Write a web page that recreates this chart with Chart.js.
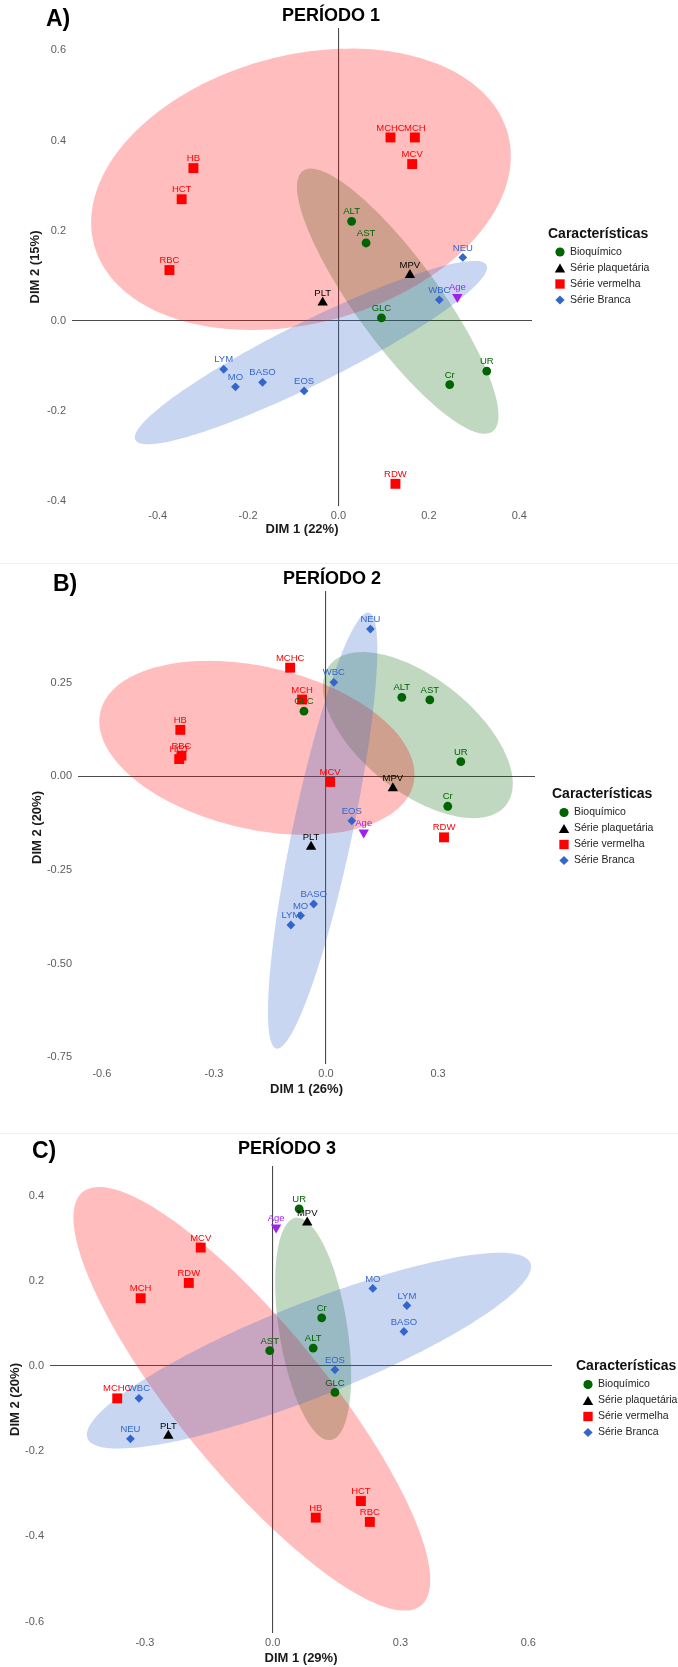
<!DOCTYPE html>
<html>
<head>
<meta charset="utf-8">
<script src="https://cdn.jsdelivr.net/npm/chart.js@4.4.1/dist/chart.umd.min.js"></script>
<style>
  html, body { margin: 0; padding: 0; background: #fff; }
  #page { position: relative; width: 678px; height: 1667px; overflow: hidden; }
  .panel { position: absolute; left: 0; width: 678px; }
  .sep { position: absolute; left: 0; width: 678px; height: 1px; background: #f1f1f1; }
</style>
</head>
<body>
<div id="page">
  <div class="sep" style="top:563px"></div>
  <div class="sep" style="top:1133px"></div>
  <div class="panel" style="top:0px;height:560px"><canvas id="c1" width="678" height="560"></canvas></div>
  <div class="panel" style="top:560px;height:570px"><canvas id="c2" width="678" height="570"></canvas></div>
  <div class="panel" style="top:1127px;height:540px"><canvas id="c3" width="678" height="540"></canvas></div>
</div>
<script>
// legend groups (index 4 = Age, not in legend)
var groups = ['Bioquímico', 'Série plaquetária', 'Série vermelha', 'Série Branca'];
var groupColors = ['#006400', '#000000', '#FF0000', '#3366CC', '#A020F0'];
var ellipseFill = ['rgba(0,100,0,0.25)', null, 'rgba(255,0,0,0.26)', 'rgba(51,102,204,0.27)'];

// ---- Período 1
var p1Names = ['ALT','AST','GLC','UR','Cr','PLT','MPV','HB','HCT','RBC','MCHC','MCH','MCV','RDW','NEU','WBC','LYM','MO','BASO','EOS','Age'];
var p1Group = [0,0,0,0,0,1,1,2,2,2,2,2,2,2,3,3,3,3,3,3,4];
var p1Dim1 = [0.029,0.061,0.095,0.328,0.246,-0.035,0.158,-0.321,-0.347,-0.374,0.115,0.169,0.163,0.126,0.275,0.223,-0.254,-0.228,-0.168,-0.076,0.263];
var p1Dim2 = [0.221,0.173,0.007,-0.111,-0.141,0.041,0.102,0.339,0.270,0.113,0.407,0.407,0.348,-0.361,0.141,0.047,-0.107,-0.146,-0.136,-0.155,0.053];
// ellipses: Bioquímico, Série vermelha, Série Branca
var p1EllGroup = [0, 2, 3];
var p1EllCx = [0.131, -0.083, -0.061];
var p1EllCy = [0.044, 0.292, -0.070];
var p1EllA = [0.357, 0.474, 0.434];
var p1EllB = [0.093, 0.297, 0.069];
var p1EllAngle = [-54, 15, 26.5];
var p1XTicks = ['-0.4','-0.2','0.0','0.2','0.4'];
var p1YTicks = ['-0.4','-0.2','0.0','0.2','0.4','0.6'];

// ---- Período 2
var p2Names = ['ALT','AST','GLC','UR','Cr','PLT','MPV','HB','HCT','RBC','MCHC','MCH','MCV','RDW','NEU','WBC','LYM','MO','BASO','EOS','Age'];
var p2Group = [0,0,0,0,0,1,1,2,2,2,2,2,2,2,3,3,3,3,3,3,4];
var p2Dim1 = [0.203,0.278,-0.059,0.361,0.326,-0.040,0.179,-0.390,-0.393,-0.387,-0.096,-0.064,0.011,0.316,0.119,0.021,-0.094,-0.068,-0.033,0.069,0.101];
var p2Dim2 = [0.211,0.204,0.174,0.039,-0.080,-0.188,-0.032,0.124,0.046,0.055,0.290,0.205,-0.015,-0.163,0.393,0.251,-0.397,-0.372,-0.341,-0.119,-0.150];
var p2EllGroup = [0, 2, 3];
var p2EllCx = [0.246, -0.185, -0.009];
var p2EllCy = [0.110, 0.076, -0.145];
var p2EllA = [0.301, 0.430, 0.595];
var p2EllB = [0.152, 0.217, 0.080];
var p2EllAngle = [-38.4, -12.9, 78];
var p2XTicks = ['-0.6','-0.3','0.0','0.3'];
var p2YTicks = ['-0.75','-0.50','-0.25','0.00','0.25'];

// ---- Período 3
var p3Names = ['UR','Cr','ALT','AST','GLC','MPV','PLT','MCV','RDW','MCH','MCHC','HCT','HB','RBC','MO','LYM','BASO','EOS','WBC','NEU','Age'];
var p3Group = [0,0,0,0,0,1,1,2,2,2,2,2,2,2,3,3,3,3,3,3,4];
var p3Dim1 = [0.062,0.115,0.095,-0.007,0.146,0.081,-0.245,-0.169,-0.197,-0.310,-0.365,0.207,0.101,0.228,0.235,0.315,0.308,0.146,-0.314,-0.334,0.008];
var p3Dim2 = [0.369,0.113,0.042,0.036,-0.062,0.337,-0.164,0.278,0.195,0.159,-0.076,-0.317,-0.356,-0.366,0.182,0.142,0.081,-0.009,-0.076,-0.171,0.325];
var p3EllGroup = [0, 2, 3];
var p3EllCx = [0.095, -0.049, 0.085];
var p3EllCy = [0.087, -0.077, 0.036];
var p3EllA = [0.264, 0.627, 0.559];
var p3EllB = [0.080, 0.172, 0.110];
var p3EllAngle = [99, -50.7, 21.6];
var p3XTicks = ['-0.3','0.0','0.3','0.6'];
var p3YTicks = ['-0.6','-0.4','-0.2','0.0','0.2','0.4'];

var FONT = "'Liberation Sans', Arial, Helvetica, sans-serif";
var shapeStyle = ['circle', 'triangle', 'rect', 'rectRot', 'triangle'];
var shapeRotation = [0, 0, 0, 0, 180];
var shapeRadius = [4.4, 6, 7, 4.4, 6];

function buildPanel(id, p) {
  var datasets = [];
  for (var g = 0; g < 5; g++) {
    var pts = [];
    p.group.forEach(function(gg, i) {
      if (gg === g) pts.push({ x: p.dim1[i], y: p.dim2[i], name: p.names[i] });
    });
    datasets.push({
      data: pts,
      backgroundColor: groupColors[g],
      pointBackgroundColor: groupColors[g],
      pointBorderWidth: 0,
      pointStyle: shapeStyle[g],
      rotation: shapeRotation[g],
      pointRotation: shapeRotation[g],
      pointRadius: shapeRadius[g],
      pointHoverRadius: shapeRadius[g]
    });
  }

  var ellipsePlugin = {
    id: 'ellipses',
    beforeDatasetsDraw: function(chart) {
      var ctx = chart.ctx, xs = chart.scales.x, ys = chart.scales.y;
      var area = chart.chartArea;
      ctx.save();
      ctx.beginPath();
      ctx.rect(area.left, area.top, area.right - area.left, area.bottom - area.top);
      ctx.clip();
      for (var e = 0; e < p.ell.group.length; e++) {
        var th = p.ell.angle[e] * Math.PI / 180;
        ctx.beginPath();
        for (var k = 0; k <= 180; k++) {
          var t = k / 180 * 2 * Math.PI;
          var u = p.ell.a[e] * Math.cos(t), v = p.ell.b[e] * Math.sin(t);
          var dx = p.ell.cx[e] + u * Math.cos(th) - v * Math.sin(th);
          var dy = p.ell.cy[e] + u * Math.sin(th) + v * Math.cos(th);
          var px = xs.getPixelForValue(dx), py = ys.getPixelForValue(dy);
          if (k === 0) ctx.moveTo(px, py); else ctx.lineTo(px, py);
        }
        ctx.closePath();
        ctx.fillStyle = ellipseFill[p.ell.group[e]];
        ctx.fill();
      }
      ctx.restore();
    }
  };

  var labelPlugin = {
    id: 'pointLabels',
    afterDatasetsDraw: function(chart) {
      var ctx = chart.ctx;
      ctx.save();
      ctx.font = '9.5px ' + FONT;
      ctx.textAlign = 'center';
      ctx.textBaseline = 'middle';
      chart.data.datasets.forEach(function(ds, di) {
        var meta = chart.getDatasetMeta(di);
        ctx.fillStyle = groupColors[di];
        meta.data.forEach(function(el, j) {
          ctx.fillText(ds.data[j].name, el.x, el.y - 9.5);
        });
      });
      ctx.restore();
    }
  };

  var decoPlugin = {
    id: 'deco',
    afterDraw: function(chart) {
      var ctx = chart.ctx;
      var area = chart.chartArea;
      ctx.save();
      ctx.fillStyle = '#000';
      ctx.textBaseline = 'middle';
      ctx.textAlign = 'left';
      ctx.font = 'bold 23px ' + FONT;
      ctx.fillText(p.letter, p.letterX, p.letterY);
      ctx.font = 'bold 18px ' + FONT;
      ctx.fillText(p.title, p.titleX, p.titleY);

      // legend
      var cy = (area.top + area.bottom) / 2;
      var ly = cy - 33;
      ctx.font = 'bold 14px ' + FONT;
      ctx.fillStyle = '#111';
      ctx.fillText('Características', p.legendX, ly);
      ctx.font = '10.5px ' + FONT;
      var legRadius = [4.6, 6, 6.6, 4.6];
      for (var i = 0; i < groups.length; i++) {
        var y = ly + 18 + 16 * i;
        ctx.fillStyle = groupColors[i];
        Chart.helpers.drawPoint(ctx, { pointStyle: shapeStyle[i], rotation: 0, radius: legRadius[i], borderWidth: 0 }, p.legendX + 12, y + (i === 1 ? 1.5 : 0));
        ctx.fillStyle = '#222';
        ctx.fillText(groups[i], p.legendX + 22, y);
      }
      ctx.restore();
    }
  };

  function zeroGrid(c) {
    return (c.tick && Math.abs(c.tick.value) < 1e-9) ? '#4a4a4a' : 'rgba(0,0,0,0)';
  }

  new Chart(document.getElementById(id), {
    type: 'scatter',
    data: { datasets: datasets },
    options: {
      responsive: false,
      animation: false,
      events: [],
      layout: { padding: p.padding },
      plugins: { legend: { display: false }, tooltip: { enabled: false } },
      scales: {
        x: {
          type: 'linear',
          min: p.xMin, max: p.xMax,
          afterBuildTicks: function(s) { s.ticks = p.xTicks.map(function(t) { return { value: parseFloat(t) }; }); },
          afterFit: function(s) { s.height = p.xAxisH; },
          ticks: {
            autoSkip: false, maxRotation: 0, padding: 3,
            color: '#5c5c5c', font: { family: FONT, size: 11 },
            callback: function(v, i) { return p.xTicks[i]; }
          },
          grid: { drawTicks: false, color: zeroGrid, lineWidth: 1.1 },
          border: { display: false },
          title: { display: true, text: p.xTitle, color: '#1a1a1a', font: { family: FONT, size: 13, weight: 'bold' }, padding: { top: 0, bottom: 0 } }
        },
        y: {
          type: 'linear',
          min: p.yMin, max: p.yMax,
          afterBuildTicks: function(s) { s.ticks = p.yTicks.map(function(t) { return { value: parseFloat(t) }; }); },
          afterFit: function(s) { s.width = p.yAxisW; },
          ticks: {
            autoSkip: false, padding: 6,
            color: '#5c5c5c', font: { family: FONT, size: 11 },
            callback: function(v, i) { return p.yTicks[i]; }
          },
          grid: { drawTicks: false, color: zeroGrid, lineWidth: 1.1 },
          border: { display: false },
          title: { display: true, text: p.yTitle, color: '#1a1a1a', font: { family: FONT, size: 13, weight: 'bold' }, padding: { top: 4, bottom: 4 } }
        }
      }
    },
    plugins: [ellipsePlugin, labelPlugin, decoPlugin]
  });
}

buildPanel('c1', {
  names: p1Names, group: p1Group, dim1: p1Dim1, dim2: p1Dim2,
  ell: { group: p1EllGroup, cx: p1EllCx, cy: p1EllCy, a: p1EllA, b: p1EllB, angle: p1EllAngle },
  xTicks: p1XTicks, yTicks: p1YTicks,
  xMin: -0.5896, xMax: 0.4281, yMin: -0.4102, yMax: 0.6497,
  xTitle: 'DIM 1 (22%)', yTitle: 'DIM 2 (15%)',
  padding: { left: 24, right: 146, top: 28, bottom: 23 },
  yAxisW: 48, xAxisH: 31,
  letter: 'A)', letterX: 46, letterY: 20,
  title: 'PERÍODO 1', titleX: 282, titleY: 16,
  legendX: 548
});

buildPanel('c2', {
  names: p2Names, group: p2Group, dim1: p2Dim1, dim2: p2Dim2,
  ell: { group: p2EllGroup, cx: p2EllCx, cy: p2EllCy, a: p2EllA, b: p2EllB, angle: p2EllAngle },
  xTicks: p2XTicks, yTicks: p2YTicks,
  xMin: -0.664, xMax: 0.5596, yMin: -0.7682, yMax: 0.4948,
  xTitle: 'DIM 1 (26%)', yTitle: 'DIM 2 (20%)',
  padding: { left: 26, right: 143, top: 31, bottom: 33 },
  yAxisW: 52, xAxisH: 33,
  letter: 'B)', letterX: 53, letterY: 25,
  title: 'PERÍODO 2', titleX: 283, titleY: 19,
  legendX: 552
});

buildPanel('c3', {
  names: p3Names, group: p3Group, dim1: p3Dim1, dim2: p3Dim2,
  ell: { group: p3EllGroup, cx: p3EllCx, cy: p3EllCy, a: p3EllA, b: p3EllB, angle: p3EllAngle },
  xTicks: p3XTicks, yTicks: p3YTicks,
  xMin: -0.5228, xMax: 0.6556, yMin: -0.6268, yMax: 0.4695,
  xTitle: 'DIM 1 (29%)', yTitle: 'DIM 2 (20%)',
  padding: { left: 4, right: 126, top: 39, bottom: 1 },
  yAxisW: 46, xAxisH: 33,
  letter: 'C)', letterX: 32, letterY: 25,
  title: 'PERÍODO 3', titleX: 238, titleY: 22,
  legendX: 576
});
</script>
</body>
</html>
